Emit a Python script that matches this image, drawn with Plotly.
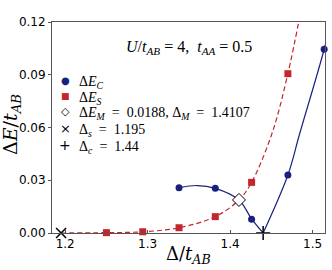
import plotly.graph_objects as go

# ---- data ----
ec_x = [1.338, 1.382, 1.426, 1.470, 1.514]
ec_y = [0.0258, 0.0254, 0.0078, 0.0330, 0.1045]

es_x = [1.250, 1.294, 1.338, 1.382, 1.426, 1.470]
es_y = [0.0002, 0.0007, 0.0030, 0.0093, 0.0288, 0.0906]

em_x = [1.4107]
em_y = [0.0188]

ds_x = [1.195]
ds_y = [0.0]
dc_x = [1.44]
dc_y = [0.0]

# fitted curves
fit_c_left_x = [1.338, 1.360, 1.382, 1.4107, 1.426, 1.440]
fit_c_left_y = [0.0258, 0.0270, 0.0254, 0.0188, 0.0080, 0.0]
fit_c_right_x = [1.440, 1.470, 1.484, 1.514, 1.526]
fit_c_right_y = [0.0, 0.0330, 0.0560, 0.1045, 0.1280]
fit_s_x = [1.195, 1.250, 1.294, 1.338, 1.382, 1.4107, 1.426, 1.451, 1.470, 1.486]
fit_s_y = [0.0, 0.0002, 0.0007, 0.0030, 0.0093, 0.0188, 0.0288, 0.0570, 0.0906, 0.1270]

x_ticks = [1.2, 1.3, 1.4, 1.5]
y_ticks = [0.00, 0.03, 0.06, 0.09, 0.12]

legend_labels = [
    "Δ<i>E</i><sub><i>C</i></sub>",
    "Δ<i>E</i><sub><i>S</i></sub>",
    "Δ<i>E</i><sub><i>M</i></sub>\u2002=\u20020.0188, Δ<sub><i>M</i></sub>\u2002=\u20021.4107",
    "Δ<sub><i>s</i></sub>\u2002=\u20021.195",
    "Δ<sub><i>c</i></sub>\u2002=\u20021.44",
]

BLUE = "#1a2080"
RED = "#c4262b"
SERIF = "Liberation Serif, DejaVu Serif, serif"
SERIF2 = "DejaVu Serif, serif"
SANS = "DejaVu Sans, sans-serif"

fig = go.Figure()

# curves (clipped)
fig.add_trace(go.Scatter(x=fit_s_x, y=fit_s_y, mode="lines", showlegend=False,
                         line=dict(color=RED, width=1.2, dash="5px,3px", shape="spline", smoothing=1.0),
                         hoverinfo="skip"))
fig.add_trace(go.Scatter(x=fit_c_left_x, y=fit_c_left_y, mode="lines", showlegend=False,
                         line=dict(color=BLUE, width=1.2, shape="spline", smoothing=1.0),
                         hoverinfo="skip"))
fig.add_trace(go.Scatter(x=fit_c_right_x, y=fit_c_right_y, mode="lines", showlegend=False,
                         line=dict(color=BLUE, width=1.2, shape="spline", smoothing=1.0),
                         hoverinfo="skip"))

# markers
fig.add_trace(go.Scatter(x=ec_x, y=ec_y, mode="markers", name=legend_labels[0], showlegend=False,
                         marker=dict(symbol="circle", size=7, color=BLUE), cliponaxis=False))
fig.add_trace(go.Scatter(x=es_x, y=es_y, mode="markers", name=legend_labels[1], showlegend=False,
                         marker=dict(symbol="square", size=7, color=RED), cliponaxis=False))
fig.add_trace(go.Scatter(x=em_x, y=em_y, mode="markers", name=legend_labels[2], showlegend=False,
                         marker=dict(symbol="diamond", size=10, color="white",
                                     line=dict(color="black", width=1)), cliponaxis=False))
fig.add_trace(go.Scatter(x=ds_x, y=ds_y, mode="markers", name=legend_labels[3], showlegend=False,
                         marker=dict(symbol="x-thin", size=10, color="black",
                                     line=dict(color="black", width=1.5)), cliponaxis=False))
fig.add_trace(go.Scatter(x=dc_x, y=dc_y, mode="markers", name=legend_labels[4], showlegend=False,
                         marker=dict(symbol="cross-thin", size=10, color="black",
                                     line=dict(color="black", width=1.5)), cliponaxis=False))

# parameter text
fig.add_annotation(x=0.5, y=0.88, xref="paper", yref="paper", showarrow=False,
                   text="<i>U</i>/<i>t</i><sub><i>AB</i></sub> = 4,  <i>t</i><sub><i>AA</i></sub> = 0.5",
                   font=dict(family=SERIF, size=16, color="black"), xanchor="center", yanchor="middle")

# hand-placed legend (key glyphs + labels)
PW, PH, L, T = 273, 211, 52, 22
def px(xp):
    return (xp - L) / PW
def py(yp):
    return (T + PH - yp) / PH

key_glyphs = [("●", BLUE, 10), ("■", RED, 9), ("◇", "black", 11), ("×", "black", 13), ("+", "black", 14)]
row_y = [80, 96, 112, 128, 145]
for (g, c, s), lab, yy in zip(key_glyphs, legend_labels, row_y):
    fig.add_annotation(x=px(65), y=py(yy), xref="paper", yref="paper", showarrow=False,
                       text=g, font=dict(family=SANS, size=s, color=c),
                       xanchor="center", yanchor="middle")
    fig.add_annotation(x=px(77), y=py(yy + 2), xref="paper", yref="paper", showarrow=False,
                       text=lab, font=dict(family=SERIF, size=14, color="black"),
                       xanchor="left", yanchor="middle")

# axis titles
fig.add_annotation(x=px(188), y=py(255), xref="paper", yref="paper", showarrow=False,
                   text="Δ/<i>t</i><sub><i>AB</i></sub>", font=dict(family=SERIF2, size=18, color="black"),
                   xanchor="center", yanchor="middle")
fig.add_annotation(x=px(11), y=py(125), xref="paper", yref="paper", showarrow=False, textangle=-90,
                   text="Δ<i>E</i>/<i>t</i><sub><i>AB</i></sub>", font=dict(family=SERIF2, size=19, color="black"),
                   xanchor="center", yanchor="middle")

fig.update_layout(
    width=332, height=270,
    margin=dict(l=L, r=332 - L - PW, t=T, b=270 - T - PH),
    paper_bgcolor="white", plot_bgcolor="white",
    showlegend=False,
    font=dict(family=SANS, size=12, color="black"),
)
fig.update_xaxes(range=[1.184, 1.515], tickvals=x_ticks, ticktext=[f"{v:.1f}" for v in x_ticks],
                 showgrid=False, zeroline=False, showline=True, linecolor="#555", linewidth=1,
                 mirror=True, ticks="inside", ticklen=3, tickcolor="#555", automargin=False,
                 tickfont=dict(family=SANS, size=12, color="black"))
fig.update_yaxes(range=[0, 0.12], tickvals=y_ticks, ticktext=[f"{v:.2f}" for v in y_ticks],
                 showgrid=False, zeroline=False, showline=True, linecolor="#555", linewidth=1,
                 mirror=True, ticks="outside", ticklen=3, tickcolor="#555", automargin=False,
                 tickfont=dict(family=SANS, size=12, color="black"))

fig.write_html("out.html", config={"displayModeBar": False},
               post_script="document.body.style.margin='0';document.body.style.overflow='hidden';")
